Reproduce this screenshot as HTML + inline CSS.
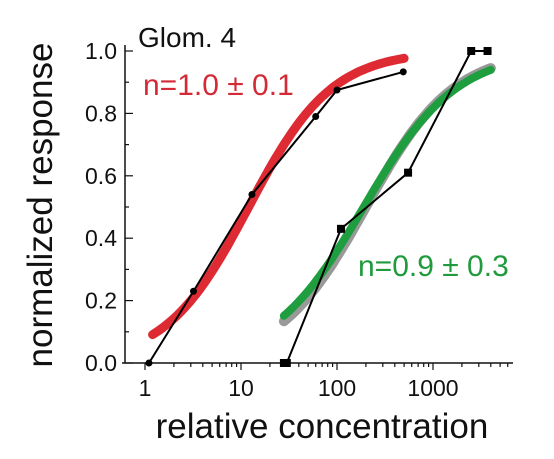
<!DOCTYPE html>
<html><head><meta charset="utf-8"><style>
body{margin:0;background:#fff}
svg text{font-family:"Liberation Sans",sans-serif}
</style></head><body>
<svg width="554" height="454" viewBox="0 0 554 454">
<g id="axes"></g>
<g id="marks"></g>
<text x="138" y="47" font-size="28" fill="#111">Glom. 4</text>
<text x="143" y="95" font-size="30" fill="#d42a35">n=1.0 ± 0.1</text>
<text x="358" y="276" font-size="30" fill="#1f9a3c">n=0.9 ± 0.3</text>
<text x="322" y="438" font-size="35" text-anchor="middle" fill="#111">relative concentration</text>
<text transform="translate(52,205) rotate(-90)" font-size="35" text-anchor="middle" fill="#111">normalized response</text>
</svg>
<script>
const circX=[1.1,3.2,13,60,100,490];
const circY=[0,0.23,0.54,0.79,0.875,0.933];
const sqX=[28,30,110,550,2500,3700];
const sqY=[0,0,0.43,0.61,1.0,1.0];
const yTicks=[0,0.2,0.4,0.6,0.8,1.0];
const yTickLabels=["0.0","0.2","0.4","0.6","0.8","1.0"];
const xTicks=[1,10,100,1000];
const xTickLabels=["1","10","100","1000"];
const redFit=[12,1.0,1.0,1.2,500];   // ec50, n, max, from, to
const grayFit=[200,0.95,1.0,28,4000];
const greenFit=[190,0.9,1.0,28,4000];
const NS="http://www.w3.org/2000/svg";
const X=v=>145+96*Math.log10(v), Y=v=>363-312*v;
const axes=document.getElementById('axes'), marks=document.getElementById('marks');
function mk(p,t,a){const e=document.createElementNS(NS,t);for(const k in a)e.setAttribute(k,a[k]);p.appendChild(e);return e;}
let e=mk(axes,'line',{x1:125,y1:45,x2:125,y2:363,stroke:'#111','stroke-width':1.5});


e=mk(axes,'line',{x1:122,y1:363,x2:513,y2:363,stroke:'#111','stroke-width':1.5});


for(let i=0;i<=10;i++){const y=Y(i/10);e=mk(axes,'line',{x1:125,y1:y,x2:i%2?129:133,y2:y,stroke:'#111','stroke-width':1.2});

}
yTicks.forEach((v,i)=>{e=mk(axes,'text',{x:117,y:Y(v)+8,'font-size':23,'text-anchor':'end',fill:'#111'});e.textContent=yTickLabels[i];

});
for(let d=0;d<4;d++)for(let m=1;m<10;m++){const v=Math.pow(10,d)*m;const x=X(v);if(x>513)continue;e=mk(axes,'line',{x1:x,y1:363,x2:x,y2:m==1?370:367,stroke:'#111','stroke-width':1.2});

}
xTicks.forEach((v,i)=>{e=mk(axes,'text',{x:X(v),y:396,'font-size':23,'text-anchor':'middle',fill:'#111'});e.textContent=xTickLabels[i];

});
function fit(f,col,w,name){let d='';for(let i=0;i<=80;i++){const lc=Math.log10(f[3])+(Math.log10(f[4])-Math.log10(f[3]))*i/80;const c=Math.pow(10,lc);const r=Math.pow(c,f[1]);const y=f[2]*r/(r+Math.pow(f[0],f[1]));d+=(i?'L':'M')+X(c).toFixed(1)+','+Y(y).toFixed(1);}
const p=mk(marks,'path',{d:d,fill:'none',stroke:col,'stroke-width':w,'stroke-linecap':'round'});

}
fit(redFit,'#de2a33',9,'red-fit-curve');
fit(grayFit,'#999',10,'gray-fit-curve');
fit(greenFit,'#1e9e3e',8,'green-fit-curve');
function series(xs,ys,sq,name){let d='';xs.forEach((v,i)=>d+=(i?'L':'M')+X(v)+','+Y(ys[i]));
const p=mk(marks,'path',{d:d,fill:'none',stroke:'#000','stroke-width':2});


xs.forEach((v,i)=>{let m;if(sq)m=mk(marks,'rect',{x:X(v)-4,y:Y(ys[i])-4,width:8,height:8,fill:'#000'});else m=mk(marks,'circle',{cx:X(v),cy:Y(ys[i]),r:3.5,fill:'#000'});

});}
series(circX,circY,false,'circle-series');
series(sqX,sqY,true,'square-series');
</script>
</body></html>
